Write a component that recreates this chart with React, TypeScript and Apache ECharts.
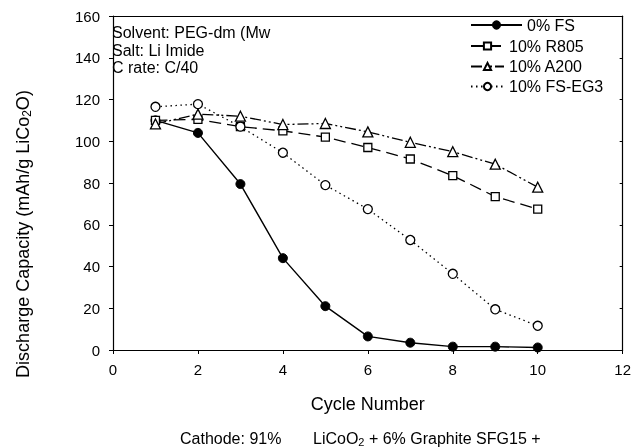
import React, { useEffect, useRef } from "react";
import * as echarts from "echarts";

const cycles = [1, 2, 3, 4, 5, 6, 7, 8, 9, 10];
const fs0 = [110, 104, 79.5, 44, 21, 6.5, 3.5, 1.6, 1.6, 1.2];
const r805 = [110, 110.5, 107, 105, 102, 97, 91.5, 83.5, 73.5, 67.5];
const a200 = [108.3, 113, 112, 108, 108.5, 104.5, 99.5, 95, 89, 78];
const fseg3 = [116.5, 117.8, 107, 94.5, 79, 67.5, 52.7, 36.5, 19.5, 11.6];
const seriesNames = ["0% FS", "10% R805", "10% A200", "10% FS-EG3"];
const xTicks = [0, 2, 4, 6, 8, 10, 12];
const notes = ["Solvent: PEG-dm (Mw", "Salt: Li Imide", "C rate: C/40"];

const FONT = "Liberation Sans, Arial, sans-serif";

export default function App() {
  const ref = useRef<HTMLDivElement>(null);
  useEffect(() => {
    if (!ref.current) return;
    const chart = echarts.init(ref.current, null, { renderer: "svg" });
    const pts = (ys: number[]) => cycles.map((c, i) => [c, ys[i]]);
    const common = {
      type: "line",
      symbolSize: 9,
      lineStyle: { color: "#000", width: 1.3 },
      itemStyle: { color: "#fff", borderColor: "#000", borderWidth: 1.3 },
      z: 3,
    };
    const legendCenters = [26, 47, 67.5, 87.5];
    const legendWidths = [51, 33, 33, 33];
    const axisLineStyle = { lineStyle: { color: "#000", width: 1.2 } };
    const option: any = {
      animation: false,
      textStyle: { fontFamily: FONT },
      grid: {
        left: 113,
        right: 9,
        top: 16,
        bottom: 97,
      },
      legend: seriesNames.map((n, i) => ({
        data: [n],
        left: 470,
        top: legendCenters[i] - 9,
        itemWidth: legendWidths[i],
        itemHeight: 9,
        itemGap: 5,
        textStyle: { fontFamily: FONT, fontSize: 16, color: "#000" },
        padding: 0,
      })),
      xAxis: [
        {
          type: "value",
          min: 0,
          max: 12,
          interval: 2,
          name: "Cycle Number",
          nameLocation: "middle",
          nameGap: 45,
          nameTextStyle: { fontFamily: FONT, fontSize: 18, color: "#000" },
          axisLine: axisLineStyle,
          axisTick: { show: true, inside: false, length: 4, lineStyle: { color: "#000" } },
          axisLabel: {
            fontFamily: FONT,
            fontSize: 15,
            color: "#000",
            margin: 12,
            formatter: (v: number) => (xTicks.includes(v) ? String(v) : ""),
          },
          splitLine: { show: false },
        },
        {
          type: "value",
          position: "top",
          min: 0,
          max: 12,
          interval: 2,
          axisLine: { show: true, onZero: false, lineStyle: { color: "#000", width: 1.2 } },
          axisTick: { show: false },
          axisLabel: { show: false },
          splitLine: { show: false },
        },
      ],
      yAxis: [
        {
          type: "value",
          min: 0,
          max: 160,
          interval: 20,
          axisLine: axisLineStyle,
          axisTick: { show: true, inside: false, length: 4, lineStyle: { color: "#000" } },
          axisLabel: { fontFamily: FONT, fontSize: 15, color: "#000", margin: 13 },
          splitLine: { show: false },
        },
        {
          type: "value",
          position: "right",
          min: 0,
          max: 160,
          interval: 20,
          axisLine: { show: true, onZero: false, lineStyle: { color: "#000", width: 1.2 } },
          axisTick: { show: true, inside: true, length: 3, lineStyle: { color: "#000" } },
          axisLabel: { show: false },
          splitLine: { show: false },
        },
      ],
      series: [
        {
          ...common,
          name: seriesNames[0],
          data: pts(fs0),
          symbol: "circle",
          itemStyle: { color: "#000", borderColor: "#000", borderWidth: 1 },
          lineStyle: { color: "#000", width: 1.4, type: "solid" },
        },
        {
          ...common,
          name: seriesNames[1],
          data: pts(r805),
          symbol: "rect",
          symbolSize: 8,
          lineStyle: { color: "#000", width: 1.3, type: [12, 6] },
        },
        {
          ...common,
          name: seriesNames[2],
          data: pts(a200),
          symbol: "triangle",
          symbolSize: 10,
          lineStyle: { color: "#000", width: 1.3, type: [11, 3, 2, 3, 2, 3] },
        },
        {
          ...common,
          name: seriesNames[3],
          data: pts(fseg3),
          symbol: "circle",
          symbolSize: 9,
          lineStyle: { color: "#000", width: 1.3, type: [1.5, 3.5] },
        },
      ],
      graphic: [
        ...notes.map((t, i) => ({
          type: "text",
          x: 112,
          y: 32.5 + i * 17.5,
          style: {
            text: t,
            font: `16px ${FONT}`,
            fill: "#000",
            verticalAlign: "middle",
          },
        })),
        {
          type: "text",
          x: 23,
          y: 234,
          rotation: Math.PI / 2,
          style: {
            text: "Discharge Capacity (mAh/g LiCo{s|2}O)",
            font: `18px ${FONT}`,
            fill: "#000",
            align: "center",
            verticalAlign: "middle",
            rich: {
              s: { fontSize: 12, fontFamily: FONT, fill: "#000", padding: [7, 0, 0, 0] },
            },
          },
        },
        {
          type: "text",
          x: 180,
          y: 438,
          style: {
            text: "Cathode: 91%",
            font: `16px ${FONT}`,
            fill: "#000",
            verticalAlign: "middle",
          },
        },
        {
          type: "text",
          x: 313,
          y: 438,
          style: {
            text: "LiCoO{s|2} + 6% Graphite SFG15 +",
            font: `16px ${FONT}`,
            fill: "#000",
            verticalAlign: "middle",
            rich: {
              s: { fontSize: 11, fontFamily: FONT, fill: "#000", padding: [7, 0, 0, 0] },
            },
          },
        },
      ],
    };
    chart.setOption(option);
    return () => chart.dispose();
  }, []);
  return (
    <div
      ref={ref}
      style={{ position: "fixed", left: 0, top: 0, width: 634, height: 447 }}
    />
  );
}
